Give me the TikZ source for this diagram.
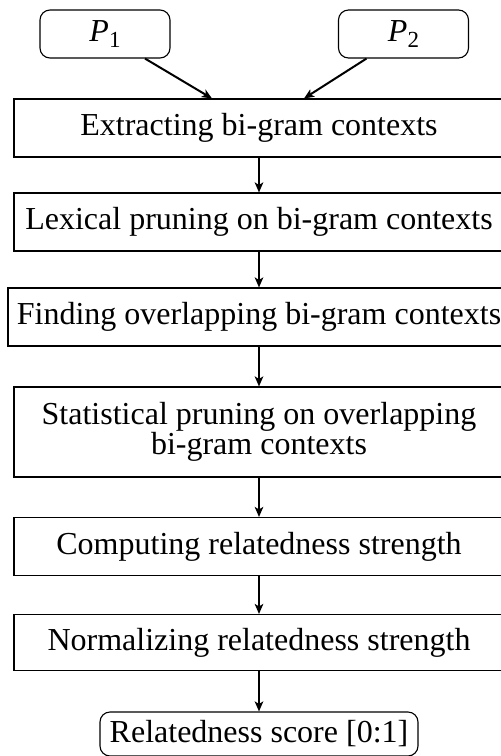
\documentclass[tikz,border=0pt]{standalone}
\usepackage{fontspec}
\setmainfont{Liberation Serif}
\usetikzlibrary{arrows.meta,calc}
\tikzset{
  stepbox/.style={draw, line width=1.1pt, minimum width=490pt, minimum height=58pt,
    inner sep=0pt, align=center},
  endbox/.style={draw, line width=1.1pt, rounded corners=10pt, inner sep=0pt, align=center},
  flow/.style={line width=2pt, -{Stealth[length=10pt,width=8.5pt,inset=2.5pt]}},
}
\newcommand{\pin}[1]{\textit{P}\raisebox{-0.35ex}{\fontsize{23}{23}\selectfont #1}}
\begin{document}
\begin{tikzpicture}[x=1pt, y=-1pt, font=\fontsize{32}{29.5}\selectfont]
  \useasboundingbox (0,0) rectangle (501,756);
  % inputs
  \node[endbox, minimum width=130pt, minimum height=48pt] (p1) at (105,34) {\pin{1}};
  \node[endbox, minimum width=130pt, minimum height=48pt] (p2) at (403.5,34) {\pin{2}};
  % processing steps
  \node[stepbox] (s1) at (259,128) {Extracting bi-gram contexts};
  \node[stepbox] (s2) at (259,222) {Lexical pruning on bi-gram contexts};
  \node[stepbox, minimum width=502pt] (s3) at (259,317) {Finding overlapping bi-gram contexts};
  \node[stepbox, minimum height=90pt] (s4) at (259,432) {Statistical pruning on overlapping\\bi-gram contexts};
  \node[stepbox] (s5) at (259,546.5) {Computing relatedness strength};
  \node[stepbox, minimum height=56pt] (s6) at (259,642.5) {Normalizing relatedness strength};
  % result
  \node[endbox, minimum width=318pt, minimum height=44pt] (out) at (259,734) {Relatedness score [0:1]};
  % connectors
  \draw[flow] ($(p1.south)+(40,0)$) -- ($(s1.north)+(-47,0)$);
  \draw[flow] ($(p2.south)+(-37,0)$) -- ($(s1.north)+(45,0)$);
  \draw[flow] (s1) -- (s2);
  \draw[flow] (s2) -- (s3);
  \draw[flow] (s3) -- (s4);
  \draw[flow] (s4) -- (s5);
  \draw[flow] (s5) -- (s6);
  \draw[flow] (s6) -- (out);
\end{tikzpicture}
\end{document}
